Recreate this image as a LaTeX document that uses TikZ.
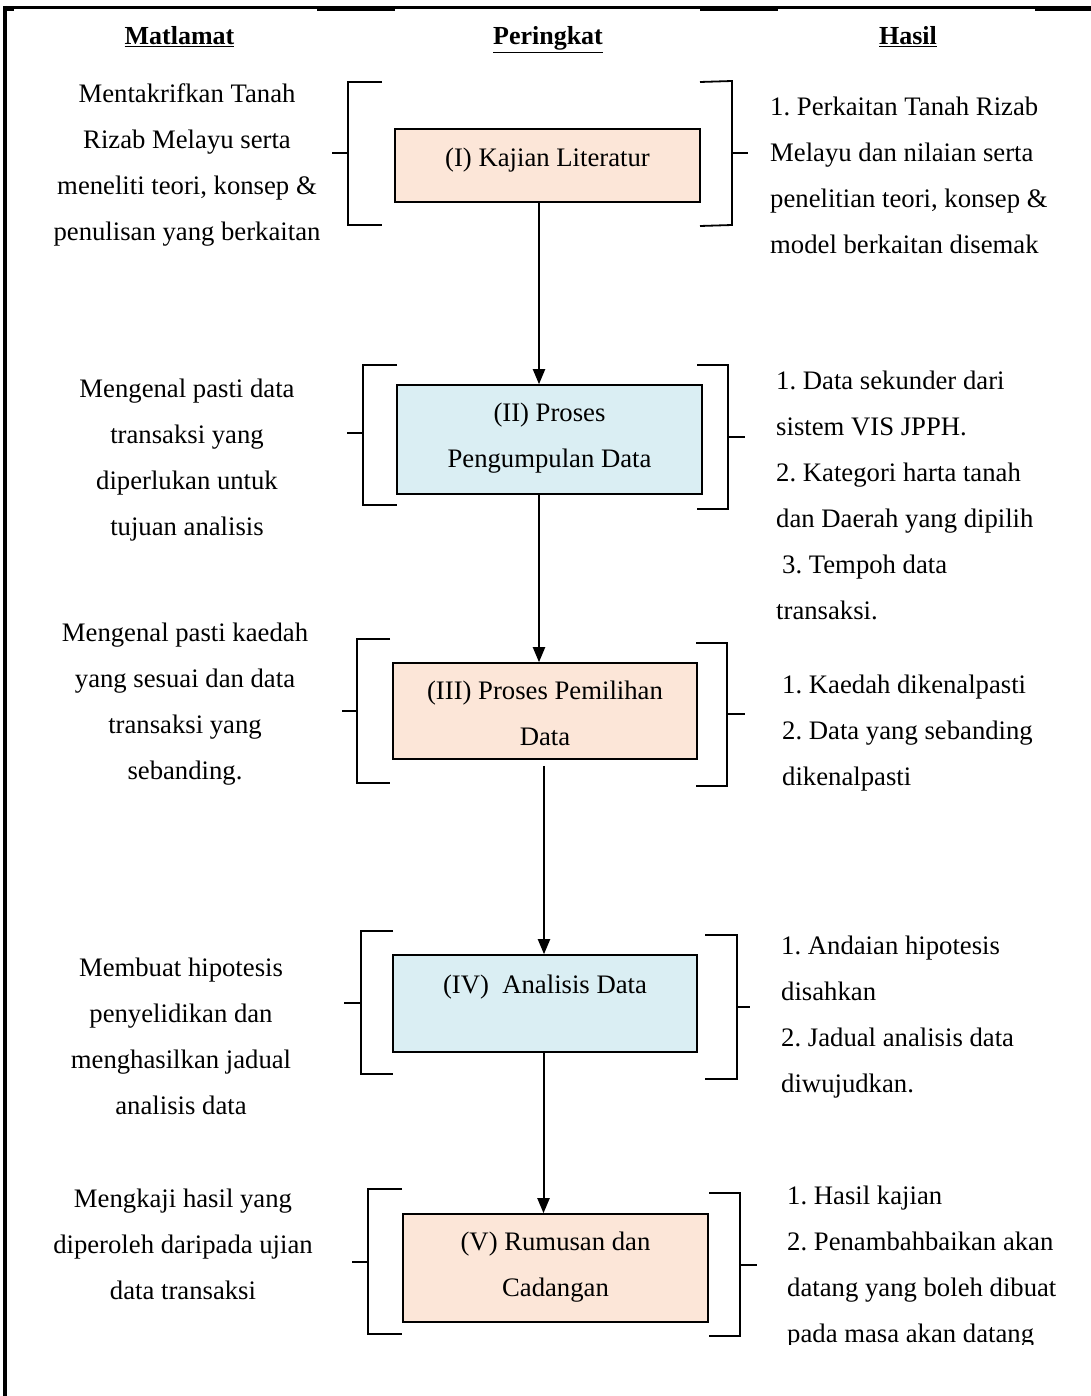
\documentclass[tikz,border=0pt]{standalone}
\usepackage{fontspec}
\setmainfont{Liberation Serif}
\frenchspacing
\usetikzlibrary{arrows.meta}
\definecolor{peach}{HTML}{FCE6D8}
\definecolor{lblue}{HTML}{DAEEF3}
\begin{document}
\begin{tikzpicture}[x=1pt,y=-1pt,
  txt/.style={inner sep=0pt, font=\fontsize{26.7}{46}\selectfont\frenchspacing},
  ltxt/.style={txt, anchor=base, align=center},
  rtxt/.style={txt, anchor=base west, align=left},
  ctxt/.style={txt, anchor=base, align=center},
  hdr/.style={inner sep=0pt, anchor=base, font=\fontsize{26}{30}\selectfont\bfseries},
  stagebox/.style={draw=black, line width=1.6pt, rectangle, inner sep=0pt},
  boxp/.style={stagebox, fill=peach},
  boxb/.style={stagebox, fill=lblue},
  brk/.style={line width=1.8pt},
  arr/.style={line width=2pt, -{Triangle[length=15pt,width=12pt]}},
]
\useasboundingbox (0,0) rectangle (1091,1396);
\fill[white] (0,0) rectangle (1091,1396);

% frame
\draw[line width=2.5pt] (3,7.5) -- (1091,7.5);
\draw[line width=4pt] (5,6) -- (5,1396);
\draw[line width=4.5pt] (3,8.5) -- (14,8.5);
\draw[line width=4.5pt] (317,8.5) -- (395,8.5);
\draw[line width=4.5pt] (700,8.5) -- (778,8.5);
\draw[line width=4.5pt] (1035,8.5) -- (1091,8.5);

% headers
\node[hdr] (h1) at (179.5,45) {\underline{Matlamat}};
\node[hdr] (h2) at (548,45) {\underline{Peringkat}};
\node[hdr] (h3) at (908,45) {\underline{Hasil}};

% stage boxes
\node[boxp, minimum width=305pt, minimum height=73pt] (b1) at (547.5,165.5) {};
\node[boxb, minimum width=305pt, minimum height=109pt] (b2) at (549.5,439.5) {};
\node[boxp, minimum width=304pt, minimum height=96pt] (b3) at (545,711) {};
\node[boxb, minimum width=304pt, minimum height=97pt] (b4) at (545,1003.5) {};
\node[boxp, minimum width=305pt, minimum height=108pt] (b5) at (555.5,1268) {};

\node[ctxt] (t1) at (547.5,167) {(I) Kajian Literatur};
\node[ctxt] (t2) at (549.5,467) {(II) Proses\\Pengumpulan Data};
\node[ctxt] (t3) at (545,745) {(III) Proses Pemilihan\\Data};
\node[ctxt] (t4) at (545,993) {(IV)\ \ Analisis Data};
\node[ctxt] (t5) at (555.5,1296) {(V) Rumusan dan\\Cadangan};

% arrows
\draw[arr] ([xshift=-8.5pt]b1.south) -- ([xshift=-8.5pt]b1.south |- b2.north);
\draw[arr] ([xshift=-10.5pt]b2.south) -- ([xshift=-10.5pt]b2.south |- b3.north);
\draw[arr] ([xshift=-1pt,yshift=-6pt]b3.south) -- ([xshift=-1pt]b3.south |- b4.north);
\draw[arr] ([xshift=-1.5pt]b4.south) -- ([xshift=-1.5pt]b4.south |- b5.north);

% brackets
\draw[brk] (382,82) -- (348,82) -- (348,225) -- (382,225);
\draw[brk] (332,153) -- (348,153);
\draw[brk] (700,82) -- (732,81) -- (732,225) -- (700,226);
\draw[brk] (732,153) -- (748,153);

\draw[brk] (397,365) -- (363,365) -- (363,505) -- (397,505);
\draw[brk] (347,433) -- (363,433);
\draw[brk] (697,365) -- (728,365) -- (728,509) -- (697,509);
\draw[brk] (728,437) -- (745,437);

\draw[brk] (390,639) -- (357,639) -- (357,783) -- (390,783);
\draw[brk] (342,711) -- (357,711);
\draw[brk] (696,643) -- (727,643) -- (727,786) -- (696,786);
\draw[brk] (727,714) -- (745,714);

\draw[brk] (393,931) -- (361,931) -- (361,1074) -- (393,1074);
\draw[brk] (344,1003) -- (361,1003);
\draw[brk] (705,935) -- (737,935) -- (737,1079) -- (705,1079);
\draw[brk] (737,1007) -- (750,1007);

\draw[brk] (402,1189) -- (368,1189) -- (368,1334) -- (402,1334);
\draw[brk] (352,1262) -- (368,1262);
\draw[brk] (709,1193) -- (740,1193) -- (740,1336) -- (709,1336);
\draw[brk] (740,1265) -- (757,1265);

% left texts (Matlamat) -- anchor is the baseline of the last line
\node[ltxt] (m1) at (187,241) {Mentakrifkan Tanah\\Rizab Melayu serta\\meneliti teori, konsep \&\\penulisan yang berkaitan};
\node[ltxt] (m2) at (187,535) {Mengenal pasti data\\transaksi yang\\diperlukan untuk\\tujuan analisis};
\node[ltxt] (m3) at (185,779) {Mengenal pasti kaedah\\yang sesuai dan data\\transaksi yang\\sebanding.};
\node[ltxt] (m4) at (181,1114) {Membuat hipotesis\\penyelidikan dan\\menghasilkan jadual\\analisis data};
\node[ltxt] (m5) at (183,1299) {Mengkaji hasil yang\\diperoleh daripada ujian\\data transaksi};

% right texts (Hasil)
\node[rtxt] (r1) at (770,254) {1. Perkaitan Tanah Rizab\\Melayu dan nilaian serta\\penelitian teori, konsep \&\\model berkaitan disemak};
\node[rtxt] (r2) at (776,619) {1. Data sekunder dari\\sistem VIS JPPH.\\2. Kategori harta tanah\\dan Daerah yang dipilih\\\hspace*{6pt}3. Tempoh data\\transaksi.};
\node[rtxt] (r3) at (782,785) {1. Kaedah dikenalpasti\\2. Data yang sebanding\\dikenalpasti};
\node[rtxt] (r4) at (781,1092) {1. Andaian hipotesis\\disahkan\\2. Jadual analisis data\\diwujudkan.};
\begin{scope}
\clip (760,1170) rectangle (1091,1344);
\node[rtxt] (r5) at (787,1342) {1. Hasil kajian\\2. Penambahbaikan akan\\datang yang boleh dibuat\\pada masa akan datang};
\end{scope}
\end{tikzpicture}
\end{document}
